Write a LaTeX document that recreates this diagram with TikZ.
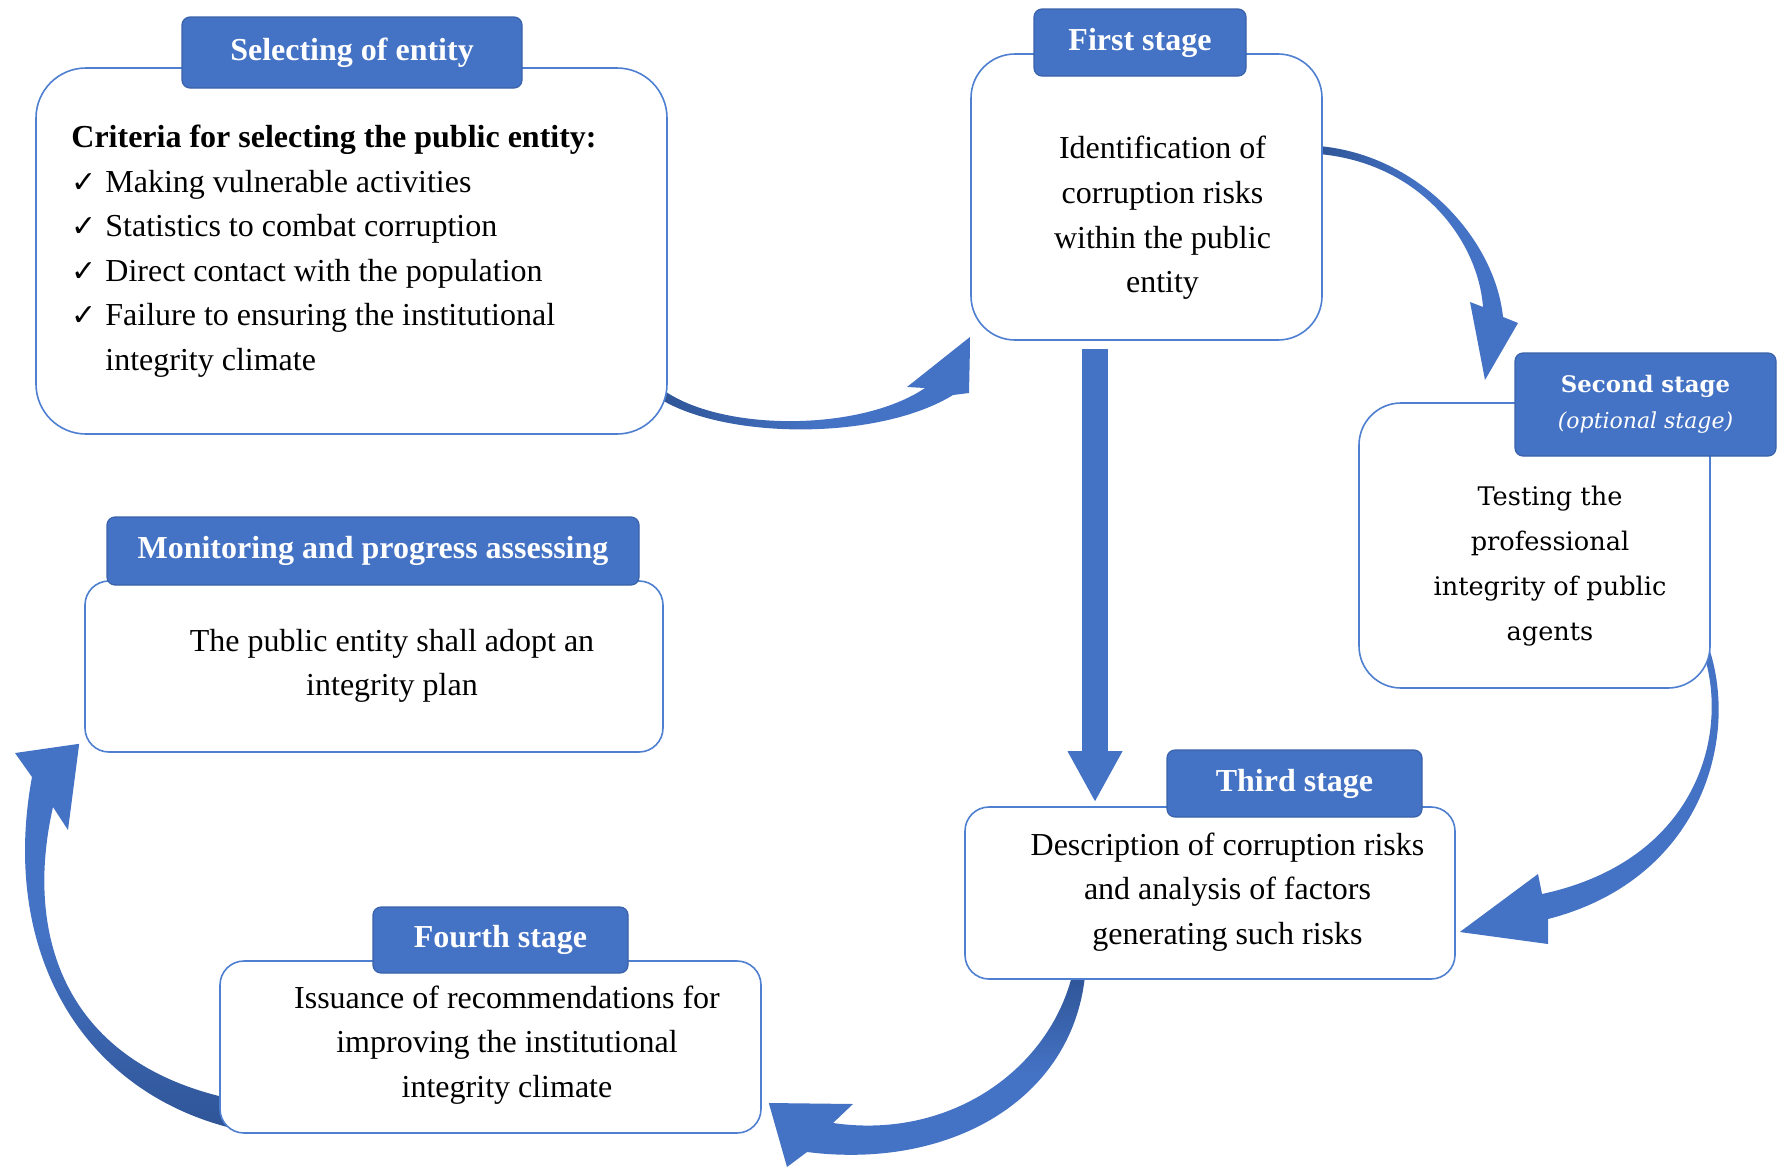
\documentclass[tikz,border=0pt]{standalone}
\usepackage{fontspec}
\setmainfont{Liberation Serif}
\newfontfamily\bookfont{DejaVu Serif}
\newfontfamily\symfont{DejaVu Sans}
\usetikzlibrary{arrows.meta, calc, backgrounds}

\definecolor{hdrblue}{HTML}{4472C4}
\definecolor{hdrline}{HTML}{3A62AB}
\definecolor{boxline}{HTML}{4F7FD0}
\definecolor{arrblue}{HTML}{4472C4}
\definecolor{arrdark}{HTML}{2F5597}

\newcommand{\ck}{\makebox[17pt][l]{\symfont\fontsize{15}{15}\selectfont ✓}}

\begin{document}
\begin{tikzpicture}[
  x=0.5pt, y=-0.5pt,
  font=\fontsize{16}{22.3}\selectfont,
  panel/.style={draw=boxline, fill=white, line width=0.8pt},
  hdr/.style={draw=hdrline, fill=hdrblue, line width=0.6pt, rounded corners=4pt,
              text=white, font=\fontsize{16}{20}\selectfont\bfseries, inner sep=0pt},
  body/.style={align=center, inner sep=0pt},
  curvearr/.style={fill=arrblue},
  downarr/.style={draw=arrblue, line width=13pt, -{Triangle[length=25.5pt, width=25.5pt]}},
]
\useasboundingbox (0,0) rectangle (1787,1167);

% --- boxes ---
\node[panel, rounded corners=25pt, minimum width=315.5pt, minimum height=183pt] (selbox) at (351.5,251) {};
\node[panel, rounded corners=22pt, minimum width=175.5pt, minimum height=143pt] (s1box) at (1146.5,197) {};
\node[panel, rounded corners=21pt, minimum width=175.5pt, minimum height=142.5pt] (s2box) at (1534.5,545.5) {};
\node[panel, rounded corners=12pt, minimum width=245pt, minimum height=86pt] (s3box) at (1210,893) {};
\node[panel, rounded corners=12pt, minimum width=270.5pt, minimum height=86pt] (s4box) at (490.5,1047) {};
\node[panel, rounded corners=12pt, minimum width=289pt, minimum height=85.5pt] (monbox) at (374,666.5) {};

% --- headers ---
\node[hdr, minimum width=170pt, minimum height=35.5pt] (selhead) at (352,52.5) {Selecting of entity};
\node[hdr, minimum width=106pt, minimum height=33.5pt] (s1head) at (1140,42.5) {First stage};
\node[hdr, minimum width=130.5pt, minimum height=51.5pt, align=center,
      font=\bookfont\fontsize{11.4}{18.2}\selectfont] (s2head) at (1645.5,404.5)
      {{\bfseries Second stage}\\{\itshape\fontsize{11}{18.2}\selectfont (optional stage)}};
\node[hdr, minimum width=127.5pt, minimum height=33.5pt] (s3head) at (1294.5,783.5) {Third stage};
\node[hdr, minimum width=127.5pt, minimum height=33pt] (s4head) at (500.5,940) {Fourth stage};
\node[hdr, minimum width=266pt, minimum height=34pt] (monhead) at (373,551) {Monitoring and progress assessing};

% --- texts ---
\node[anchor=west, inner sep=0pt] (seltxt) at (71,250) {%
  \begin{tabular}{@{}l@{}l@{}}
  \multicolumn{2}{@{}l@{}}{\bfseries Criteria for selecting the public entity:}\\
  \ck & Making vulnerable activities\\
  \ck & Statistics to combat corruption\\
  \ck & Direct contact with the population\\
  \ck & Failure to ensuring the institutional\\
      & integrity climate
  \end{tabular}};
\node[body] (s1txt) at (1162.5,218) {Identification of\\corruption risks\\within the public\\entity};
\node[body, font=\bookfont\fontsize{12.8}{22.4}\selectfont] (s2txt) at (1550,566) {Testing the\\professional\\integrity of public\\agents};
\node[body] (s3txt) at (1227.5,892) {Description of corruption risks\\and analysis of factors\\generating such risks};
\node[body] (s4txt) at (507,1045) {Issuance of recommendations for\\improving the institutional\\integrity climate};
\node[body] (montxt) at (392,666) {The public entity shall adopt an\\integrity plan};

% --- straight arrow: first -> third ---
\coordinate (dtop) at ($(s1box.south)+(-51.5,8)$);
\draw[downarr] (dtop) -- ($(dtop |- s3box.north)+(0,-4)$);

% --- curved arrows (behind the boxes) ---
\coordinate (a1tail) at ($(selbox.east)+(-6,138)$);
\coordinate (a1tip)  at ($(s1box.south west)+(0,-4)$);
\coordinate (a2tail) at ($(s1box.east)+(-4,-51)$);
\coordinate (a2tip)  at (1485,380);
\coordinate (a3tail) at ($(s2box.east)+(-2,102)$);
\coordinate (a3tip)  at ($(s3box.east)+(4,39)$);
\coordinate (a5tail) at ($(s3box.south)+(-138,-4)$);
\coordinate (a5tip)  at ($(s4box.east)+(7,56)$);
\coordinate (a6tail) at ($(s4box.west)+(8,51)$);
\coordinate (a6tip)  at ($(monbox.south west)+(-5,-9)$);
\begin{scope}[on background layer]
\shade[left color=arrdark, right color=arrblue, middle color=arrblue]
  ($(a1tail)+(0,11)$) .. controls (730,440) and (880,440) .. (953,395) -- (969,393)
  -- (a1tip) -- (907,387) -- (925,388) .. controls (860,432) and (720,432) .. (a1tail) -- cycle;
\shade[left color=arrdark, right color=arrblue, middle color=arrblue]
  (a2tail) .. controls (1420,155) and (1495,240) .. (1503,317) -- (1518,323)
  -- (a2tip) -- (1470,302) -- (1483,307) .. controls (1478,240) and (1420,163) .. ($(a2tail)+(0,8)$) -- cycle;
\fill[curvearr] (a3tail) .. controls (1740,740) and (1700,880) .. (1548,919) -- (1548,944)
  -- (a3tip) -- (1538,874) -- (1542,894) .. controls (1700,860) and (1730,730) .. ($(a3tail)+(-6,4)$) -- cycle;
\shade[top color=arrdark, bottom color=arrblue, middle color=arrblue]
  ($(a5tail)+(13,0)$) .. controls (1072,1100) and (950,1170) .. (807,1152) -- (787,1167)
  -- (a5tip) -- (853,1104) -- (833,1123) .. controls (950,1140) and (1048,1070) .. (a5tail) -- cycle;
\shade[top color=arrblue, bottom color=arrdark, middle color=arrblue]
  ($(a6tail)+(4,30)$) .. controls (80,1090) and (0,950) .. (32,777) -- (15,753)
  -- (a6tip) -- (68,830) -- (53,807) .. controls (25,930) and (60,1060) .. (a6tail) -- cycle;
\end{scope}

\end{tikzpicture}
\end{document}
